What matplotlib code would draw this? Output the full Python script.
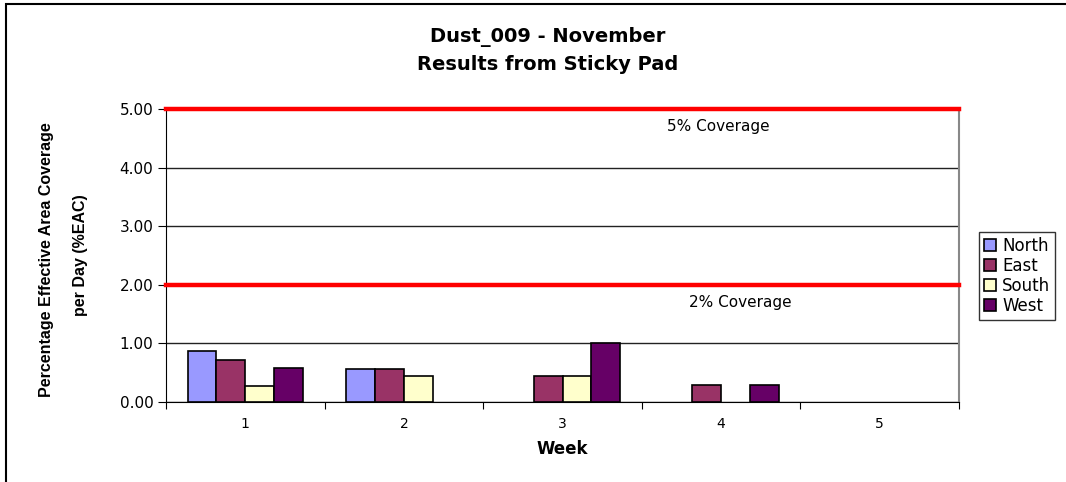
import numpy as np
import matplotlib
matplotlib.use("Agg")
import matplotlib.pyplot as plt
from matplotlib.patches import Rectangle

plt.rcParams["font.family"] = ["DejaVu Sans"]

weeks = ["1", "2", "3", "4", "5"]
series = ["North", "East", "South", "West"]
north = [0.87, 0.56, 0.0, 0.0, 0.0]
east = [0.72, 0.56, 0.44, 0.29, 0.0]
south = [0.28, 0.44, 0.44, 0.0, 0.0]
west = [0.58, 0.0, 1.0, 0.29, 0.0]
boje = ["#9999FF", "#993366", "#FFFFCC", "#660066"]

limits = [5.0, 2.0]
limit_labels = ["5% Coverage", "2% Coverage"]

fig = plt.figure(figsize=(10.66, 4.82), dpi=100)

# okvir oko cele slike (desno i dole ide van slike)
fig.patches.append(Rectangle((6 / 1066, -0.1), 1.2, 1 - 4 / 482 + 0.1,
                             transform=fig.transFigure, fill=False,
                             edgecolor="black", linewidth=1.5))

ax = fig.add_axes([166 / 1066, 1 - 402 / 482, (959 - 166) / 1066, (402 - 109) / 482])

x = np.arange(len(weeks))
w = 1 / 5.5
for j, (ime, vals) in enumerate(zip(series, [north, east, south, west])):
    vals = np.array(vals, dtype=float)
    # nule se ne crtaju (nema stubica)
    vals[vals == 0] = np.nan
    ax.bar(x + (j - 1.5) * w, vals, width=w, color=boje[j],
           edgecolor="black", linewidth=1.2, label=ime, zorder=3)

ax.set_xlim(-0.5, len(weeks) - 0.5)
ax.set_ylim(0, 5)
ax.set_yticks(np.arange(0, 5.01, 1))
ax.set_yticklabels([f"{v:.2f}" for v in np.arange(0, 5.01, 1)], fontsize=11)
ax.grid(axis="y", color="#222222", linewidth=1, zorder=0)

# x tickovi izmedju kategorija, labele u sredini
ax.set_xticks(np.arange(-0.5, len(weeks), 1))
ax.set_xticklabels([])
ax.set_xticks(x, minor=True)
ax.set_xticklabels(weeks, minor=True, fontsize=10)
ax.tick_params(axis="x", which="minor", length=0, pad=11)
ax.tick_params(axis="x", which="major", length=5, direction="out")
ax.tick_params(axis="y", length=6, direction="out", pad=3)

for lim, txt, tx in zip(limits, limit_labels, [0.632, 0.66]):
    ax.axhline(lim, color="#FF0000", linewidth=3.2, zorder=4, clip_on=False)
    ax.text(tx, lim - 0.3, txt, transform=ax.get_yaxis_transform(),
            fontsize=11, ha="left", va="center")

ax.spines["top"].set_visible(False)
ax.spines["right"].set_color("#888888")
ax.spines["right"].set_linewidth(1.5)

ax.set_xlabel("Week", fontsize=12, fontweight="bold", labelpad=6)

fig.text(47 / 1066, 1 - 260 / 482, "Percentage Effective Area Coverage",
         rotation=90, ha="center", va="center", fontsize=11.5,
         family="Liberation Sans", fontweight="bold")
fig.text(80 / 1066, 1 - 255 / 482, "per Day (%EAC)",
         rotation=90, ha="center", va="center", fontsize=11.5,
         family="Liberation Sans", fontweight="bold")

fig.text(548 / 1066, 1 - 37 / 482, "Dust_009 - November", ha="center",
         va="center", fontsize=14, fontweight="bold")
fig.text(548 / 1066, 1 - 65 / 482, "Results from Sticky Pad", ha="center",
         va="center", fontsize=14, fontweight="bold")

leg = fig.legend(loc="upper left", bbox_to_anchor=(979 / 1066, 1 - 232 / 482),
                 fontsize=12, frameon=True, fancybox=False, edgecolor="black",
                 handlelength=0.7, handleheight=0.7, handletextpad=0.4,
                 labelspacing=0.12, borderpad=0.3, borderaxespad=0)
leg.get_frame().set_linewidth(1)

fig.savefig("out.png", dpi=100)
